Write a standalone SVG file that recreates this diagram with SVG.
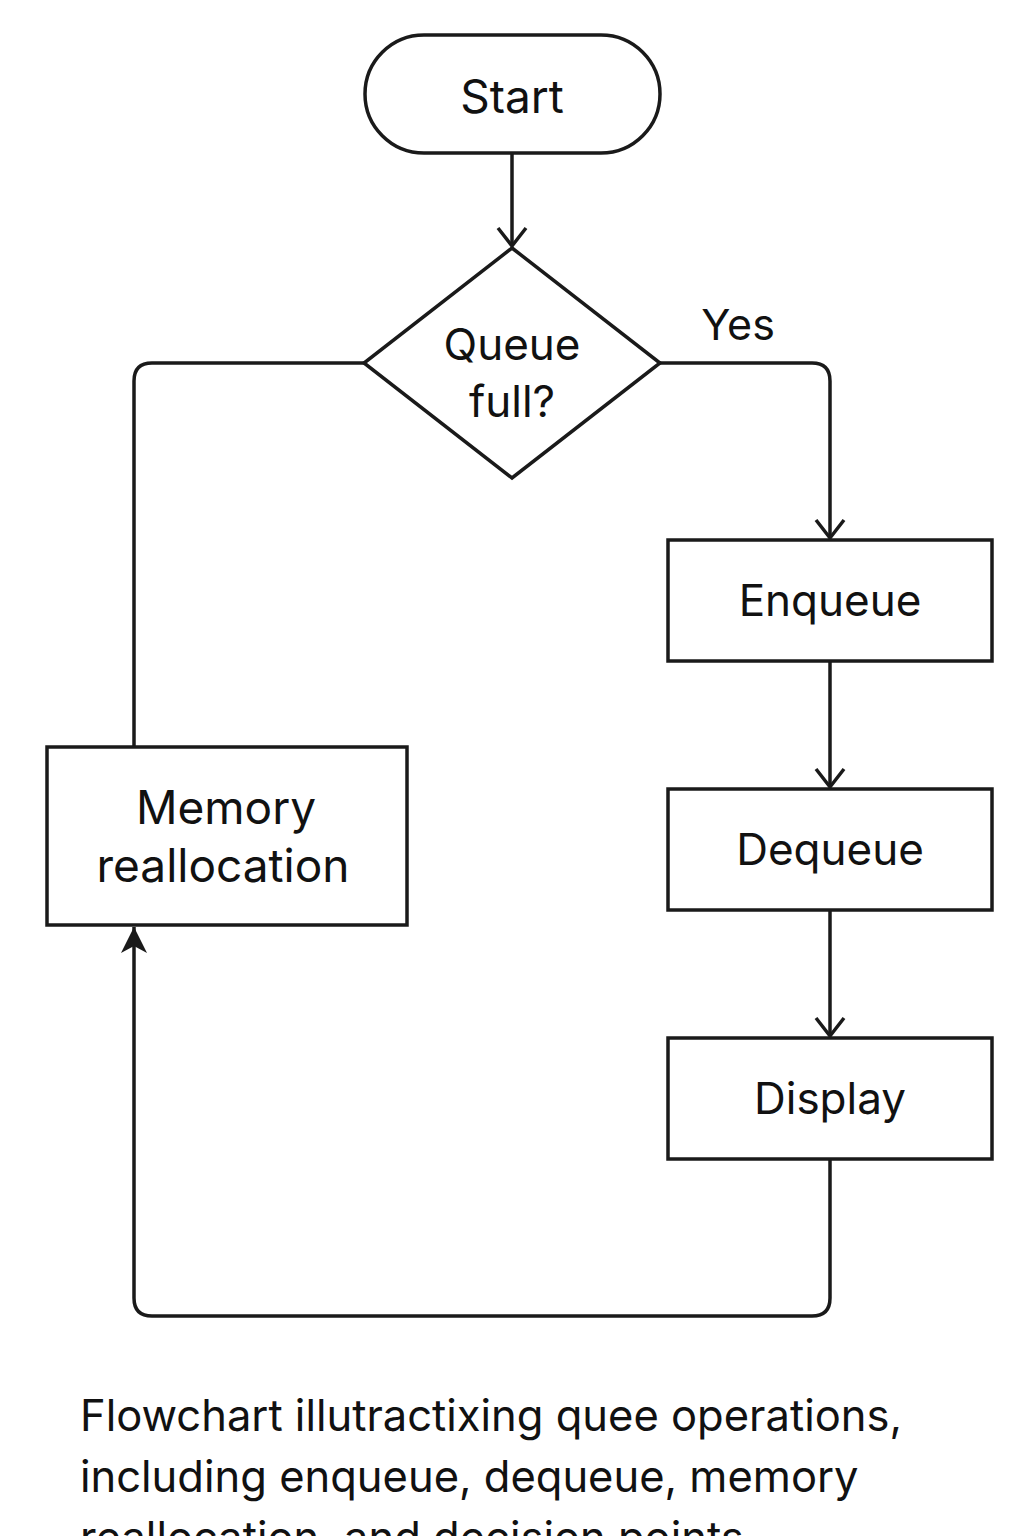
<svg xmlns="http://www.w3.org/2000/svg" width="1024" height="1536" viewBox="0 0 1024 1536">
<defs>
<style>
.shape{fill:#fff;stroke:#1a1a1a;stroke-width:3.5}
.edge{fill:none;stroke:#1a1a1a;stroke-width:3.5;stroke-linejoin:round}
.t{font-family:Inter,"Liberation Sans",sans-serif;fill:#111;text-anchor:middle;font-size:44px}
.cap{font-family:Inter,"Liberation Sans",sans-serif;fill:#111;font-size:43.5px}
</style>
<marker id="open" viewBox="0 0 24 32" refX="21" refY="16" markerWidth="24" markerHeight="32" markerUnits="userSpaceOnUse" orient="auto">
<path d="M3,2 L21,16 L3,30" fill="none" stroke="#1a1a1a" stroke-width="3.5" stroke-linejoin="miter"/>
</marker>
<marker id="solid" viewBox="0 0 28 28" refX="27" refY="14" markerWidth="28" markerHeight="28" markerUnits="userSpaceOnUse" orient="auto">
<path d="M1,1 L27,14 L1,27 L8,14 Z" fill="#1a1a1a"/>
</marker>
</defs>
<g id="edges">
<path class="edge" d="M512,153 V246" marker-end="url(#open)"/>
<path class="edge" d="M660,363 H812 Q830,363 830,381 V538" marker-end="url(#open)"/>
<path class="edge" d="M364,363 H152 Q134,363 134,381 V747"/>
<path class="edge" d="M830,661 V787" marker-end="url(#open)"/>
<path class="edge" d="M830,910 V1036" marker-end="url(#open)"/>
<path class="edge" d="M830,1159 V1298 Q830,1316 812,1316 H152 Q134,1316 134,1298 V927" marker-end="url(#solid)"/>
<text class="t" x="738" y="340" style="font-size:43px">Yes</text>
</g>
<g id="start">
<rect class="shape" x="365" y="35" width="295" height="118" rx="59"/>
<text class="t" x="512" y="113" style="font-size:46px">Start</text>
</g>
<g id="decision">
<polygon class="shape" points="512,248 660,363 512,478 364,363"/>
<text class="t" x="512" y="360">Queue</text>
<text class="t" x="512" y="417">full?</text>
</g>
<g id="enqueue">
<rect class="shape" x="668" y="540" width="324" height="121"/>
<text class="t" x="830" y="616">Enqueue</text>
</g>
<g id="dequeue">
<rect class="shape" x="668" y="789" width="324" height="121"/>
<text class="t" x="830" y="865">Dequeue</text>
</g>
<g id="display">
<rect class="shape" x="668" y="1038" width="324" height="121"/>
<text class="t" x="830" y="1114">Display</text>
</g>
<g id="memory">
<rect class="shape" x="47" y="747" width="360" height="178"/>
<text class="t" x="226" y="824" style="font-size:46px">Memory</text>
<text class="t" x="223" y="882" style="font-size:46px">reallocation</text>
</g>
<g id="caption">
<text class="cap" x="80" y="1431">Flowchart illutractixing quee operations,</text>
<text class="cap" x="80" y="1492">including enqueue, dequeue, memory</text>
<text class="cap" x="80" y="1553">reallocation, and decision points</text>
</g>
</svg>
